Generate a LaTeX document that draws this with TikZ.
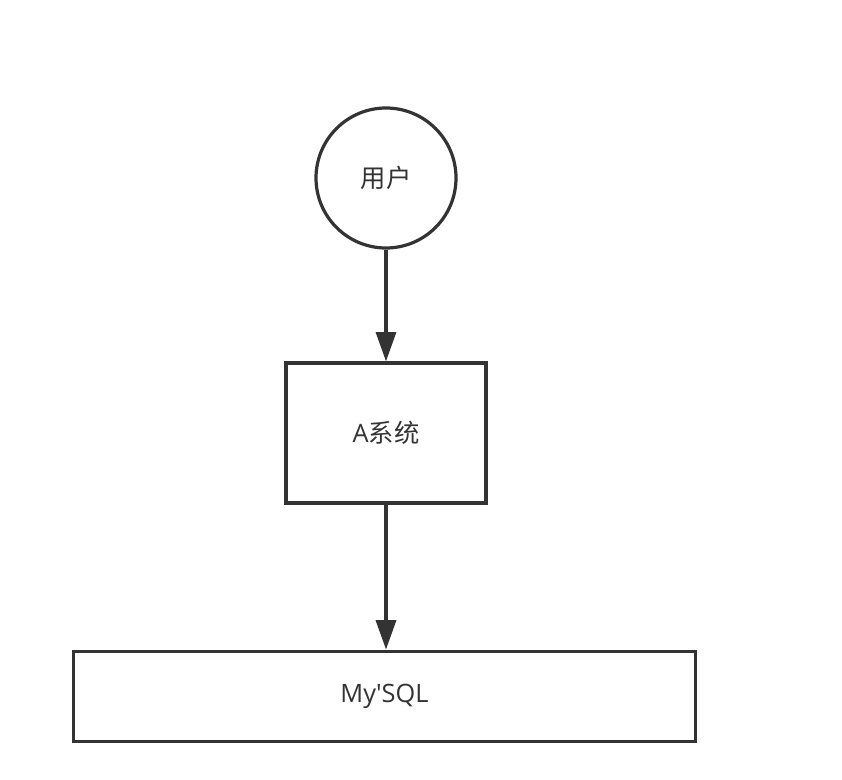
\documentclass[tikz,border=0pt]{standalone}
\usepackage{fontspec}
\setmainfont{Open Sans}
\newfontfamily\cjk{Noto Sans CJK SC}
\usetikzlibrary{arrows.meta}
\definecolor{ink}{HTML}{333333}
\tikzset{
  shapeline/.style={draw=ink, line width=2.4pt, fill=white, text=ink, font=\fontsize{19}{22}\selectfont, inner sep=0pt},
  conn/.style={draw=ink, line width=2.4pt, -{Triangle[length=22pt, width=15pt]}}
}
\begin{document}
\begin{tikzpicture}[x=0.75pt, y=-0.75pt]
\useasboundingbox (0,0) rectangle (842,780);
\node[shapeline, circle, minimum size=105pt] (user) at (386,178) {\cjk 用户};
\node[shapeline, rectangle, minimum width=150pt, minimum height=105pt] (asys) at (386,433) {A{\cjk 系统}};
\node[shapeline, rectangle, minimum width=467pt, minimum height=68pt] (db) at (384.5,696.5) {My\textquotesingle SQL};
\draw[conn] (user.south) -- (asys.north);
\draw[conn] (asys.south) -- (asys.south |- db.north);
\end{tikzpicture}
\end{document}
